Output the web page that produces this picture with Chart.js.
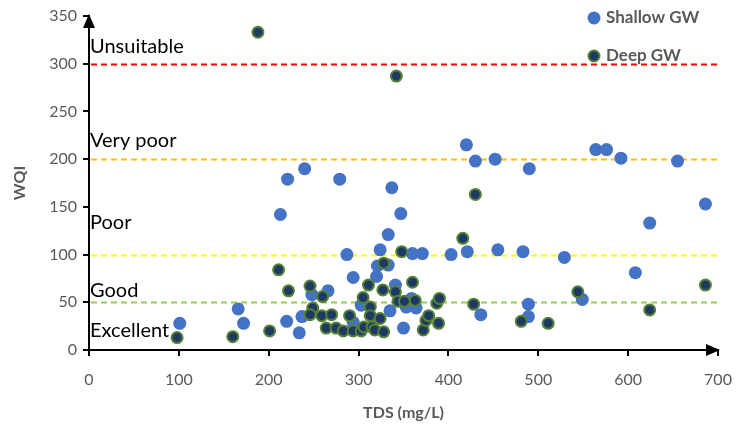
<!DOCTYPE html>
<html>
<head>
<meta charset="utf-8">
<script src="https://cdn.jsdelivr.net/npm/chart.js@4.4.1/dist/chart.umd.min.js"></script>
<style>
  html, body { margin: 0; padding: 0; background: #fff; }
  #wrap { width: 737px; height: 426px; }
</style>
</head>
<body>
<div id="wrap"><canvas id="wqiChart" width="737" height="426"></canvas></div>
<script>
// TDS (mg/L) vs WQI, shallow and deep groundwater samples
const shallowTds = [101, 166, 172, 213, 221, 220, 234, 237, 240, 248, 266, 279, 287, 294, 294, 303, 320, 321, 324, 333,
                    333, 337, 335, 341, 347, 350, 353, 359, 360, 364, 371, 403, 420, 421, 430, 436, 452, 455, 483, 489,
                    489, 490, 529, 549, 564, 576, 592, 608, 624, 655, 686];
const shallowWqi = [28, 43, 28, 142, 179, 30, 18, 35, 190, 58, 62, 179, 100, 76, 29, 47, 77, 88, 105, 89,
                    121, 170, 41, 68, 143, 23, 45, 54, 101, 44, 101, 100, 215, 103, 198, 37, 200, 105, 103, 48,
                    35, 190, 97, 53, 210, 210, 201, 81, 133, 198, 153];

const deepTds = [98, 160, 188, 201, 211, 222, 246, 249, 246, 259, 260, 264, 270, 275, 283, 290, 294, 303, 305, 306,
                 311, 313, 313, 315, 318, 324, 327, 328, 328, 341, 342, 344, 348, 351, 360, 363, 372, 375, 378, 387,
                 389, 390, 416, 428, 430, 481, 511, 544, 624, 686];
const deepWqi = [13, 14, 333, 20, 84, 62, 67, 44, 37, 36, 56, 23, 37, 23, 20, 36, 20, 20, 55, 24,
                 68, 45, 36, 24, 21, 33, 63, 19, 91, 61, 287, 51, 103, 51, 71, 52, 21, 31, 36, 49,
                 28, 54, 117, 48, 163, 30, 28, 61, 42, 68];

// water quality classes (upper limits) and their names
const classLimits = [300, 200, 100, 50];
const classColors = ['#FF0000', '#FFC000', '#FFFF00', '#92D050'];
const classNames = ['Unsuitable', 'Very poor', 'Poor', 'Good', 'Excellent'];

const xTicks = [0, 100, 200, 300, 400, 500, 600, 700];
const yTicks = [0, 50, 100, 150, 200, 250, 300, 350];

function toPoints(xs, ys) {
    return xs.map(function(x, i) { return { x: x, y: ys[i] }; });
}

const labelFont = '20px Lato, "Open Sans", sans-serif';

const classPlugin = {
    id: 'classes',
    beforeDatasetsDraw(chart) {
        const ctx = chart.ctx;
        const xs = chart.scales.x, ys = chart.scales.y;
        const left = xs.getPixelForValue(0), right = xs.getPixelForValue(700);
        ctx.save();
        ctx.lineWidth = 2;
        ctx.setLineDash([6, 4]);
        classLimits.forEach(function(v, i) {
            const y = Math.round(ys.getPixelForValue(v)) + 0.5;
            ctx.strokeStyle = classColors[i];
            ctx.beginPath();
            ctx.moveTo(left + 2, y);
            ctx.lineTo(right, y);
            ctx.stroke();
        });
        ctx.setLineDash([]);
        // class names sit just above / below their limit lines
        const offsets = [-17, -19, -32, -12, 28];
        const refs = [300, 200, 100, 50, 50];
        ctx.fillStyle = '#000';
        ctx.font = labelFont;
        ctx.textAlign = 'left';
        ctx.textBaseline = 'middle';
        classNames.forEach(function(name, i) {
            ctx.fillText(name, left + 1, ys.getPixelForValue(refs[i]) + offsets[i]);
        });
        ctx.restore();
    },
    afterDraw(chart) {
        const ctx = chart.ctx;
        const xs = chart.scales.x, ys = chart.scales.y;
        const x0 = xs.getPixelForValue(0), y0 = ys.getPixelForValue(0);
        const xEnd = xs.getPixelForValue(700), yEnd = ys.getPixelForValue(350);
        ctx.save();
        ctx.fillStyle = '#000';
        // arrow heads on both axes
        ctx.beginPath();
        ctx.moveTo(x0, yEnd - 2);
        ctx.lineTo(x0 - 6, yEnd + 12);
        ctx.lineTo(x0 + 6, yEnd + 12);
        ctx.closePath();
        ctx.fill();
        ctx.beginPath();
        ctx.moveTo(xEnd + 2, y0);
        ctx.lineTo(xEnd - 12, y0 - 6);
        ctx.lineTo(xEnd - 12, y0 + 6);
        ctx.closePath();
        ctx.fill();

        // legend, top right
        const items = chart.data.datasets.slice().sort(function(a, b) { return b.order - a.order; });
        ctx.font = 'bold 17px Lato, "Open Sans", sans-serif';
        ctx.textAlign = 'left';
        ctx.textBaseline = 'middle';
        items.forEach(function(ds, i) {
            const ly = 18 + i * 38;
            ctx.beginPath();
            ctx.arc(594, ly, ds.pointRadius, 0, Math.PI * 2);
            ctx.fillStyle = ds.backgroundColor;
            ctx.fill();
            if (ds.borderWidth) {
                ctx.lineWidth = ds.borderWidth;
                ctx.strokeStyle = ds.borderColor;
                ctx.stroke();
            }
            ctx.fillStyle = '#595959';
            ctx.fillText(ds.label, 606, ly);
        });
        ctx.restore();
    }
};

const tickFont = { family: 'Lato, "Open Sans", sans-serif', size: 16 };

new Chart(document.getElementById('wqiChart'), {
    type: 'scatter',
    data: {
        datasets: [
            {
                label: 'Shallow GW',
                data: toPoints(shallowTds, shallowWqi),
                backgroundColor: '#4472C4',
                borderColor: '#4472C4',
                borderWidth: 0,
                pointRadius: 6.5,
                order: 1
            },
            {
                label: 'Deep GW',
                data: toPoints(deepTds, deepWqi),
                backgroundColor: '#203864',
                borderColor: '#548235',
                borderWidth: 2,
                pointRadius: 5.5,
                order: 0
            }
        ]
    },
    options: {
        responsive: false,
        animation: false,
        layout: { padding: { top: 16, right: 19, left: 0, bottom: 0 } },
        plugins: {
            legend: { display: false },
            tooltip: { enabled: false }
        },
        scales: {
            x: {
                type: 'linear',
                min: 0,
                max: 700,
                afterBuildTicks(scale) { scale.ticks = xTicks.map(function(v) { return { value: v }; }); },
                afterFit(scale) {
                    scale.height = 76;
                    scale.paddingLeft = 0;
                    scale.paddingRight = 0;
                },
                border: { color: '#000', width: 2 },
                grid: { drawOnChartArea: false, drawTicks: true, tickLength: 6, color: '#000', lineWidth: 2 },
                ticks: { color: '#595959', font: tickFont, padding: 14, maxRotation: 0 },
                title: {
                    display: true,
                    text: 'TDS (mg/L)',
                    color: '#595959',
                    font: { family: 'Lato, "Open Sans", sans-serif', size: 16, weight: 'bold' },
                    padding: { top: 12 }
                }
            },
            y: {
                type: 'linear',
                min: 0,
                max: 350,
                afterBuildTicks(scale) { scale.ticks = yTicks.map(function(v) { return { value: v }; }); },
                afterFit(scale) {
                    scale.width = 89;
                    scale.paddingTop = 0;
                    scale.paddingBottom = 0;
                },
                border: { color: '#000', width: 2 },
                grid: { drawOnChartArea: false, drawTicks: true, tickLength: 6, color: '#000', lineWidth: 2 },
                ticks: { color: '#595959', font: tickFont, padding: 6 },
                title: {
                    display: true,
                    text: 'WQI',
                    color: '#595959',
                    font: { family: 'Lato, "Open Sans", sans-serif', size: 16, weight: 'bold' },
                    padding: { bottom: 0, top: 10 }
                }
            }
        }
    },
    plugins: [classPlugin]
});
</script>
</body>
</html>
